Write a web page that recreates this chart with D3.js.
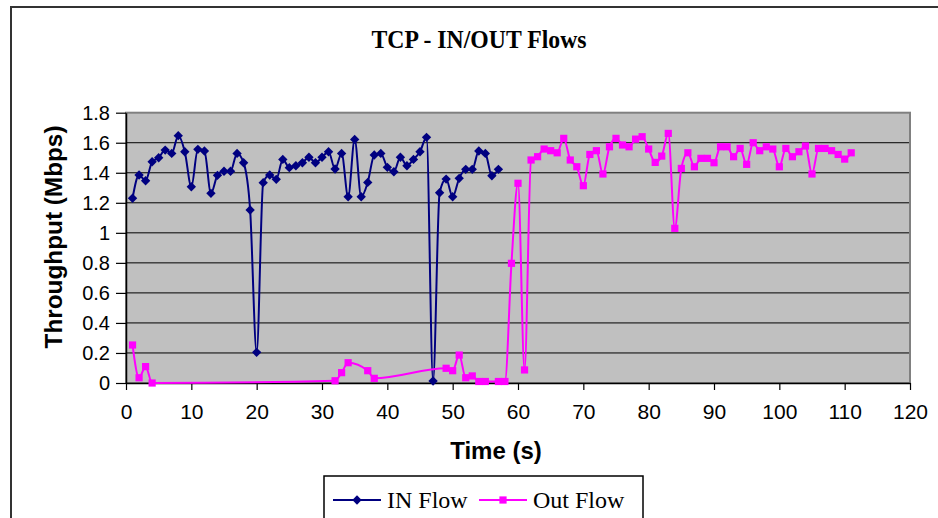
<!DOCTYPE html>
<html>
<head>
<meta charset="utf-8">
<script src="https://cdn.jsdelivr.net/npm/d3@7"></script>
<style>
  body { margin: 0; background: #fff; }
  svg { display: block; }
</style>
</head>
<body>
<svg id="chart" width="938" height="518"></svg>
<script>
// throughput samples (Mbps) per second
const inTime = [1,2,3,4,5,6,7,8,9,10,11,12,13,14,15,16,17,18,19,20,21,22,23,24,25,26,27,28,29,30,
  31,32,33,34,35,36,37,38,39,40,41,42,43,44,45,46,47,48,49,50,51,52,53,54,55,56,57];
const inValues = [1.23,1.385,1.347,1.473,1.50,1.551,1.529,1.647,1.54,1.307,1.556,1.545,1.263,1.383,1.41,1.41,
  1.529,1.467,1.152,0.204,1.334,1.385,1.356,1.489,1.434,1.447,1.467,1.503,1.467,1.503,1.54,1.425,1.529,1.24,
  1.622,1.24,1.336,1.518,1.529,1.436,1.407,1.503,1.447,1.489,1.54,1.636,0.013,1.267,1.358,1.24,1.363,1.423,
  1.423,1.545,1.529,1.38,1.423];

const outTime = [1,2,3,4,32,33,34,37,38,49,50,51,52,53,54,55,57,58,59,60,61,62,63,64,65,66,67,68,69,70,
  71,72,73,74,75,76,77,78,79,80,81,82,83,84,85,86,87,88,89,90,91,92,93,94,95,96,97,98,99,100,
  101,102,103,104,105,106,107,108,109,110,111];
const outValues = [0.253,0.035,0.109,0,0.015,0.069,0.135,0.082,0.031,0.098,0.082,0.186,0.035,0.047,0.01,0.01,
  0.01,0.01,0.797,1.33,0.087,1.485,1.507,1.558,1.547,1.533,1.629,1.485,1.44,1.314,1.522,1.547,1.392,1.573,
  1.629,1.585,1.573,1.624,1.64,1.558,1.469,1.511,1.662,1.03,1.429,1.533,1.44,1.496,1.496,1.467,1.573,1.573,
  1.507,1.562,1.456,1.6,1.547,1.573,1.558,1.44,1.562,1.507,1.54,1.578,1.392,1.562,1.562,1.547,1.522,1.491,1.533];

const xTicks = [0,10,20,30,40,50,60,70,80,90,100,110,120];
const yTicks = [0,0.2,0.4,0.6,0.8,1,1.2,1.4,1.6,1.8];

const series = [
  { name: 'IN Flow', color: '#000080', marker: 'diamond',
    data: inTime.map((t, i) => ({ x: t, y: inValues[i] })) },
  { name: 'Out Flow', color: '#FF00FF', marker: 'square',
    data: outTime.map((t, i) => ({ x: t, y: outValues[i] })) }
];

const svg = d3.select('#chart');
const plot = { left: 126, right: 910, top: 112.7, bottom: 383 };

// outer chart frame
svg.append('rect')
  .attr('x', 11).attr('y', 7)
  .attr('width', 960).attr('height', 540)
  .attr('fill', 'none').attr('stroke', '#333').attr('stroke-width', 2);

svg.append('text')
  .attr('x', 479).attr('y', 48)
  .attr('text-anchor', 'middle')
  .attr('font-family', '"Liberation Serif", "Times New Roman", serif')
  .attr('font-weight', 'bold').attr('font-size', 25)
  .attr('textLength', 215).attr('lengthAdjust', 'spacingAndGlyphs')
  .text('TCP - IN/OUT Flows');

const xScale = d3.scaleLinear().domain([0, 120]).range([plot.left, plot.right]);
const yScale = d3.scaleLinear().domain([0, 1.8]).range([plot.bottom, plot.top]);

// plot background
svg.append('rect')
  .attr('x', plot.left).attr('y', plot.top)
  .attr('width', plot.right - plot.left).attr('height', plot.bottom - plot.top)
  .attr('fill', '#C0C0C0');

// horizontal gridlines
svg.append('g')
  .selectAll('line')
  .data(yTicks.filter(d => d > 0 && d < 1.8))
  .enter().append('line')
  .attr('x1', plot.left).attr('x2', plot.right)
  .attr('y1', d => yScale(d)).attr('y2', d => yScale(d))
  .attr('stroke', '#000').attr('stroke-width', 1);

// plot border
svg.append('rect')
  .attr('x', plot.left).attr('y', plot.top)
  .attr('width', plot.right - plot.left).attr('height', plot.bottom - plot.top)
  .attr('fill', 'none').attr('stroke', '#808080').attr('stroke-width', 2);

const xAxis = svg.append('g')
  .attr('transform', `translate(0,${plot.bottom})`)
  .call(d3.axisBottom(xScale).tickValues(xTicks).tickSize(7).tickSizeOuter(0).tickPadding(14));

const yAxis = svg.append('g')
  .attr('transform', `translate(${plot.left},0)`)
  .call(d3.axisLeft(yScale).tickValues(yTicks).tickSize(10).tickSizeOuter(0).tickPadding(6)
    .tickFormat(d3.format('')));

[xAxis, yAxis].forEach(ax => {
  ax.select('.domain').attr('stroke', '#000').attr('stroke-width', 1.5);
  ax.selectAll('.tick line').attr('stroke', '#000').attr('stroke-width', 1.2);
  ax.selectAll('.tick text')
    .attr('font-family', '"Liberation Sans", Arial, sans-serif')
    .attr('font-size', 20).attr('fill', '#000');
});
xAxis.selectAll('.tick text').attr('font-size', 21);

// axis titles
svg.append('text')
  .attr('x', 496).attr('y', 459)
  .attr('text-anchor', 'middle')
  .attr('font-family', '"Liberation Sans", Arial, sans-serif')
  .attr('font-weight', 'bold').attr('font-size', 24)
  .text('Time (s)');

svg.append('text')
  .attr('transform', 'translate(62,237) rotate(-90)')
  .attr('text-anchor', 'middle')
  .attr('font-family', '"Liberation Sans", Arial, sans-serif')
  .attr('font-weight', 'bold').attr('font-size', 24)
  .attr('textLength', 223).attr('lengthAdjust', 'spacingAndGlyphs')
  .text('Throughput (Mbps)');

// smoothed lines, monotone so long gaps stay above zero
const line = d3.line()
  .x(d => xScale(d.x))
  .y(d => yScale(d.y))
  .curve(d3.curveMonotoneX);

const diamond = d3.symbol().type(d3.symbolDiamond2).size(56)();
const square = d3.symbol().type(d3.symbolSquare).size(52)();

series.forEach(s => {
  svg.append('path')
    .datum(s.data)
    .attr('d', line)
    .attr('fill', 'none')
    .attr('stroke', s.color)
    .attr('stroke-width', 2);

  svg.append('g')
    .selectAll('path')
    .data(s.data)
    .enter().append('path')
    .attr('transform', d => `translate(${xScale(d.x)},${yScale(d.y)})`)
    .attr('d', s.marker === 'diamond' ? diamond : square)
    .attr('fill', s.color);
});

// legend
const legend = svg.append('g');
legend.append('rect')
  .attr('x', 324).attr('y', 476)
  .attr('width', 319).attr('height', 60)
  .attr('fill', '#fff').attr('stroke', '#000').attr('stroke-width', 1.5);

const legendItems = [
  { s: series[0], x: 333, textX: 387 },
  { s: series[1], x: 479, textX: 533 }
];
legendItems.forEach(item => {
  legend.append('line')
    .attr('x1', item.x).attr('x2', item.x + 48)
    .attr('y1', 500).attr('y2', 500)
    .attr('stroke', item.s.color).attr('stroke-width', 2);
  legend.append('path')
    .attr('transform', `translate(${item.x + 24},500)`)
    .attr('d', item.s.marker === 'diamond' ? diamond : square)
    .attr('fill', item.s.color);
  legend.append('text')
    .attr('x', item.textX).attr('y', 508)
    .attr('font-family', '"Liberation Serif", "Times New Roman", serif')
    .attr('font-size', 24)
    .text(item.s.name);
});
</script>
</body>
</html>
